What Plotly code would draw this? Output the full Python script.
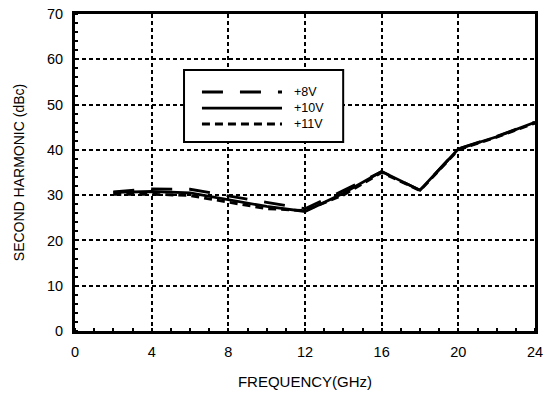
import plotly.graph_objects as go

freq = [2, 4, 6, 8, 10, 12, 14, 16, 18, 20, 22, 24]
v8 = [30.7, 31.4, 31.3, 29.8, 28.4, 27.0, 31.0, 35.2, 31.1, 40.2, 43.0, 46.1]
v10 = [30.6, 30.8, 30.5, 29.0, 27.5, 26.4, 30.4, 35.2, 31.1, 40.2, 42.9, 46.1]
v11 = [30.2, 30.2, 29.9, 28.5, 27.0, 26.6, 30.0, 35.0, 31.0, 40.0, 42.8, 45.9]
labels = ["+8V", "+10V", "+11V"]
dashes = ["21px,17px", "solid", "8px,5px"]

fig = go.Figure()
for name, ys, d in zip(labels, [v8, v10, v11], dashes):
    fig.add_trace(go.Scatter(x=freq, y=ys, mode="lines", name=name,
                             line=dict(color="black", width=2.8, dash=d),
                             showlegend=False))

FONT = "Liberation Sans, Arial, Helvetica, sans-serif"
axis_common = dict(
    showline=True, linecolor="black", linewidth=3, mirror=True, automargin=False,
    showgrid=True, gridcolor="black", gridwidth=1.5, griddash="4px,3px",
    zeroline=False, ticks="", ticklabelstandoff=6,
    tickfont=dict(family=FONT, size=14.5, color="black"),
)
fig.update_xaxes(range=[0, 24], tickvals=[0, 4, 8, 12, 16, 20, 24],
                 title=dict(text="FREQUENCY(GHz)", font=dict(family=FONT, size=15, color="black"), standoff=18),
                 minor=dict(dtick=1, ticks="inside", ticklen=3, tickcolor="black", tickwidth=1.5, showgrid=False),
                 **axis_common)
fig.update_yaxes(range=[0, 70], tickvals=[0, 10, 20, 30, 40, 50, 60, 70],
                 title=dict(text="SECOND HARMONIC (dBc)", font=dict(family=FONT, size=14, color="black"), standoff=20),
                 minor=dict(dtick=2, ticks="inside", ticklen=3, tickcolor="black", tickwidth=1.5, showgrid=False),
                 **axis_common)

# legend box (manual, paper coordinates)
shapes = [dict(type="rect", xref="paper", yref="paper", x0=0.237, x1=0.583, y0=0.596, y1=0.823,
               line=dict(color="black", width=2), fillcolor="white", layer="above")]
rows = [0.754, 0.703, 0.653]
annotations = []
for name, d, yy in zip(labels, dashes, rows):
    shapes.append(dict(type="line", xref="paper", yref="paper", x0=0.276, x1=0.450, y0=yy, y1=yy,
                       line=dict(color="black", width=2.8, dash=d), layer="above"))
    annotations.append(dict(xref="paper", yref="paper", x=0.474, y=yy, text=name, showarrow=False,
                            xanchor="left", yanchor="middle", borderpad=0,
                            font=dict(family=FONT, size=12.5, color="black")))

fig.update_layout(width=547, height=396, margin=dict(l=75, r=12, t=14, b=65, autoexpand=False),
                  paper_bgcolor="white", plot_bgcolor="white",
                  shapes=shapes, annotations=annotations,
                  font=dict(family=FONT, color="black"))
fig.write_html("out.html")
